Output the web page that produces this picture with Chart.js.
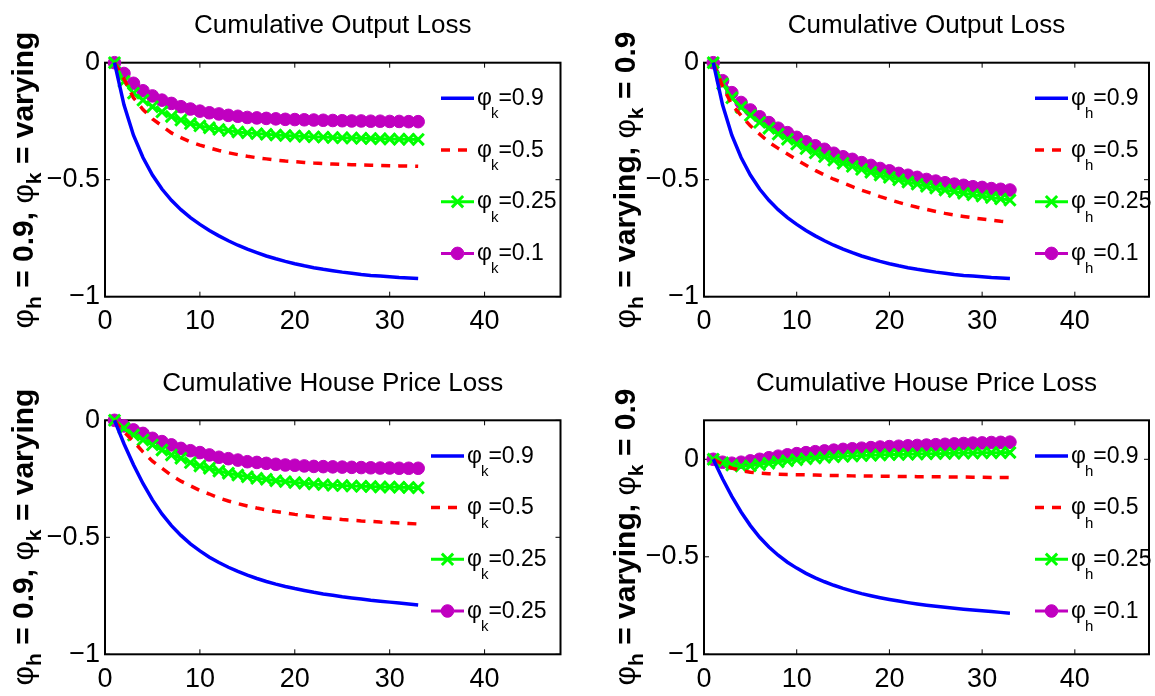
<!DOCTYPE html>
<html><head><meta charset="utf-8">
<script src="https://cdn.jsdelivr.net/npm/chart.js@4.4.1/dist/chart.umd.min.js"></script>
<style>
html,body{margin:0;padding:0;background:#fff;overflow:hidden;width:1155px;height:696px;}
.panel{position:absolute;}
.ylab{position:absolute;white-space:nowrap;font-family:'Liberation Sans',Arial,sans-serif;font-weight:bold;font-size:30px;line-height:30px;transform:translate(-50%,-50%) rotate(-90deg);color:#000;}
.ylab .phi{font-weight:normal;}
.ylab .sub{font-size:21px;line-height:0;position:relative;top:8px;}
</style></head><body>
<div class="panel" style="left:0px;top:0px;"><canvas id="cTL" width="580" height="350"></canvas></div>
<div class="panel" style="left:600px;top:0px;"><canvas id="cTR" width="560" height="350"></canvas></div>
<div class="panel" style="left:0px;top:358px;"><canvas id="cBL" width="580" height="338"></canvas></div>
<div class="panel" style="left:600px;top:358px;"><canvas id="cBR" width="560" height="338"></canvas></div>
<div class="ylab" style="left:23px;top:180px;"><span class="phi">φ</span><span class="sub">h</span> = 0.9, <span class="phi">φ</span><span class="sub">k</span> = varying</div>
<div class="ylab" style="left:625px;top:180px;"><span class="phi">φ</span><span class="sub">h</span> = varying, <span class="phi">φ</span><span class="sub">k</span> = 0.9</div>
<div class="ylab" style="left:23px;top:537px;"><span class="phi">φ</span><span class="sub">h</span> = 0.9, <span class="phi">φ</span><span class="sub">k</span> = varying</div>
<div class="ylab" style="left:625px;top:537px;"><span class="phi">φ</span><span class="sub">h</span> = varying, <span class="phi">φ</span><span class="sub">k</span> = 0.9</div>
<script>
// ---------- data ----------
const periods = [1,2,3,4,5,6,7,8,9,10,11,12,13,14,15,16,17,18,19,20,21,22,23,24,25,26,27,28,29,30,31,32,33];
const xTicks = [0,10,20,30,40];
const yTicks = [-1,-0.5,0];

// Cumulative Output Loss
const outputBoth09 = [0,-0.18,-0.31,-0.405,-0.48,-0.54,-0.588,-0.628,-0.662,-0.691,-0.717,-0.74,-0.761,-0.78,-0.797,-0.812,-0.826,-0.838,-0.849,-0.859,-0.868,-0.876,-0.883,-0.889,-0.895,-0.900,-0.905,-0.909,-0.912,-0.915,-0.918,-0.920,-0.922];
const outputK05 = [0,-0.07,-0.15,-0.20,-0.24,-0.27,-0.30,-0.32,-0.338,-0.352,-0.364,-0.375,-0.385,-0.393,-0.40,-0.406,-0.411,-0.416,-0.42,-0.423,-0.426,-0.429,-0.431,-0.433,-0.435,-0.436,-0.437,-0.438,-0.439,-0.44,-0.441,-0.442,-0.443];
const outputK025 = [0,-0.08,-0.13,-0.16,-0.188,-0.21,-0.23,-0.245,-0.26,-0.27,-0.278,-0.285,-0.29,-0.296,-0.30,-0.303,-0.306,-0.309,-0.311,-0.313,-0.315,-0.317,-0.318,-0.32,-0.321,-0.322,-0.323,-0.324,-0.325,-0.326,-0.327,-0.327,-0.328];
const outputK01 = [0,-0.046,-0.088,-0.12,-0.142,-0.16,-0.174,-0.188,-0.198,-0.207,-0.214,-0.219,-0.225,-0.229,-0.234,-0.236,-0.238,-0.24,-0.242,-0.243,-0.244,-0.245,-0.246,-0.247,-0.248,-0.249,-0.249,-0.25,-0.25,-0.251,-0.251,-0.252,-0.252];
const outputH05 = [0,-0.1,-0.18,-0.225,-0.27,-0.305,-0.34,-0.366,-0.39,-0.415,-0.438,-0.46,-0.48,-0.498,-0.514,-0.53,-0.545,-0.558,-0.572,-0.585,-0.597,-0.608,-0.618,-0.627,-0.636,-0.644,-0.651,-0.657,-0.663,-0.668,-0.673,-0.678,-0.682];
const outputH025 = [0,-0.09,-0.15,-0.19,-0.225,-0.255,-0.28,-0.305,-0.327,-0.348,-0.367,-0.385,-0.401,-0.416,-0.43,-0.443,-0.456,-0.468,-0.48,-0.49,-0.50,-0.51,-0.519,-0.528,-0.536,-0.544,-0.551,-0.558,-0.564,-0.57,-0.576,-0.582,-0.587];
const outputH01 = [0,-0.077,-0.128,-0.17,-0.202,-0.231,-0.256,-0.28,-0.299,-0.319,-0.338,-0.355,-0.37,-0.387,-0.402,-0.413,-0.427,-0.439,-0.452,-0.462,-0.473,-0.481,-0.49,-0.499,-0.506,-0.513,-0.519,-0.524,-0.53,-0.533,-0.538,-0.541,-0.544];

// Cumulative House Price Loss
const houseBoth09 = [0,-0.1,-0.19,-0.27,-0.34,-0.4,-0.45,-0.492,-0.528,-0.558,-0.585,-0.608,-0.628,-0.646,-0.662,-0.676,-0.689,-0.70,-0.71,-0.719,-0.727,-0.735,-0.742,-0.748,-0.754,-0.759,-0.764,-0.769,-0.773,-0.777,-0.781,-0.785,-0.789];
const houseK05 = [0,-0.05,-0.09,-0.135,-0.175,-0.205,-0.235,-0.26,-0.28,-0.30,-0.315,-0.332,-0.345,-0.356,-0.366,-0.375,-0.383,-0.39,-0.396,-0.402,-0.407,-0.412,-0.416,-0.42,-0.424,-0.427,-0.43,-0.432,-0.435,-0.437,-0.439,-0.441,-0.443];
const houseK025 = [0,-0.034,-0.063,-0.084,-0.105,-0.127,-0.148,-0.162,-0.181,-0.195,-0.205,-0.217,-0.226,-0.234,-0.241,-0.248,-0.252,-0.258,-0.262,-0.266,-0.269,-0.272,-0.275,-0.278,-0.279,-0.281,-0.282,-0.283,-0.285,-0.285,-0.286,-0.287,-0.288];
const houseK01 = [0,-0.024,-0.041,-0.056,-0.077,-0.091,-0.105,-0.12,-0.13,-0.138,-0.148,-0.158,-0.164,-0.17,-0.177,-0.18,-0.184,-0.188,-0.191,-0.192,-0.195,-0.197,-0.198,-0.199,-0.2,-0.201,-0.202,-0.203,-0.204,-0.204,-0.205,-0.205,-0.205];
const houseH05 = [0,-0.025,-0.045,-0.058,-0.066,-0.071,-0.074,-0.076,-0.078,-0.079,-0.08,-0.081,-0.082,-0.083,-0.084,-0.085,-0.085,-0.086,-0.087,-0.087,-0.088,-0.088,-0.089,-0.089,-0.09,-0.09,-0.091,-0.091,-0.092,-0.092,-0.093,-0.093,-0.094];
const houseH025 = [0,-0.018,-0.03,-0.035,-0.033,-0.027,-0.02,-0.013,-0.007,-0.002,0.003,0.007,0.01,0.013,0.015,0.017,0.019,0.021,0.022,0.024,0.025,0.026,0.027,0.028,0.029,0.03,0.031,0.032,0.032,0.033,0.034,0.034,0.035];
const houseH01 = [0,-0.015,-0.02,-0.015,-0.008,0.0,0.008,0.016,0.023,0.029,0.034,0.039,0.043,0.047,0.051,0.054,0.057,0.06,0.063,0.065,0.067,0.069,0.071,0.073,0.075,0.077,0.079,0.081,0.083,0.084,0.086,0.087,0.088];

// legend labels
const legendValsTL = ['0.9','0.5','0.25','0.1'];
const legendValsTR = ['0.9','0.5','0.25','0.1'];
const legendValsBL = ['0.9','0.5','0.25','0.25'];
const legendValsBR = ['0.9','0.5','0.25','0.1'];
const titleOutput = 'Cumulative Output Loss';
const titleHouse = 'Cumulative House Price Loss';

// ---------- rendering ----------
const FONT = "'Liberation Sans',Arial,sans-serif";
const STYLES = [
  {borderColor:'#0000ff', borderWidth:3.5, pointRadius:0},
  {borderColor:'#ff0000', borderWidth:3.5, borderDash:[9,8], pointRadius:0},
  {borderColor:'#00ff00', borderWidth:3, pointStyle:'crossRot', pointRadius:8, pointBorderWidth:3, pointBorderColor:'#00ff00', pointBackgroundColor:'#00ff00'},
  {borderColor:'#c000c0', borderWidth:3, borderDash:[12,4,3,4], pointStyle:'circle', pointRadius:6.3, pointBorderWidth:1, pointBorderColor:'#c000c0', pointBackgroundColor:'#c000c0'}
];

const boxPlugin = {
  id:'matlabBox',
  beforeDatasetsDraw(chart){
    const {ctx, chartArea:a, scales} = chart;
    ctx.save();
    ctx.strokeStyle='#000'; ctx.lineWidth=2; ctx.setLineDash([]);
    ctx.strokeRect(a.left, a.top, a.right-a.left, a.bottom-a.top);
    ctx.lineWidth=1;
    ctx.beginPath();
    scales.x.ticks.forEach(t=>{
      const px = scales.x.getPixelForValue(t.value);
      ctx.moveTo(px, a.bottom); ctx.lineTo(px, a.bottom-5);
      ctx.moveTo(px, a.top); ctx.lineTo(px, a.top+5);
    });
    scales.y.ticks.forEach(t=>{
      const py = scales.y.getPixelForValue(t.value);
      ctx.moveTo(a.left, py); ctx.lineTo(a.left+5, py);
      ctx.moveTo(a.right, py); ctx.lineTo(a.right-5, py);
    });
    ctx.stroke();
    ctx.restore();
  }
};

const texLegend = {
  id:'texLegend',
  afterDatasetsDraw(chart, args, o){
    const {ctx, chartArea:a} = chart;
    chart.data.datasets.forEach((ds,i)=>{
      const y = a.top + o.top + i*o.gap;
      const x0 = a.left + o.left, x1 = x0 + o.lineLen;
      ctx.save();
      ctx.strokeStyle = ds.borderColor; ctx.lineWidth = ds.borderWidth;
      ctx.setLineDash(ds.borderDash || []);
      ctx.beginPath(); ctx.moveTo(x0,y); ctx.lineTo(x1,y); ctx.stroke();
      ctx.setLineDash([]);
      if (ds.pointRadius > 0) {
        ctx.fillStyle = ds.pointBackgroundColor; ctx.strokeStyle = ds.pointBorderColor; ctx.lineWidth = ds.pointBorderWidth;
        Chart.helpers.drawPoint(ctx, {pointStyle:ds.pointStyle, radius:ds.pointRadius, borderWidth:ds.pointBorderWidth, rotation:0}, (x0+x1)/2, y);
      }
      ctx.fillStyle='#000'; ctx.textAlign='left'; ctx.textBaseline='alphabetic';
      let tx = x1 + o.textGap;
      ctx.font = o.size + 'px ' + FONT;
      ctx.fillText('φ', tx, y + o.base); tx += ctx.measureText('φ').width;
      ctx.font = o.subSize + 'px ' + FONT;
      ctx.fillText(o.sub, tx - 1, y + o.subBase); tx += ctx.measureText(o.sub).width - 1;
      ctx.font = o.size + 'px ' + FONT;
      ctx.fillText('=' + o.values[i], tx, y + o.base);
      ctx.restore();
    });
  }
};

function pts(ys){ return periods.map((x,i)=>({x:x, y:ys[i]})); }

function makeChart(id, divX, divY, plot, title, series, sub, vals, yMax, legLeft){
  const cv = document.getElementById(id);
  const W = cv.width, H = cv.height;
  const yW = 60, xH = 40, titleSize = 26, titleGap = 21.1;
  const titleH = titleSize*1.2 + titleGap;
  const datasets = series.map((s,i)=>Object.assign({
    label:'φ' + sub + '=' + vals[i], data:pts(s), tension:0, clip:false, fill:false
  }, STYLES[i]));
  return new Chart(cv, {
    type:'line',
    data:{datasets},
    plugins:[boxPlugin, texLegend],
    options:{
      responsive:false, animation:false, devicePixelRatio:1,
      layout:{padding:{left:plot.l-divX-yW, right:divX+W-plot.r, top:plot.t-divY-titleH, bottom:divY+H-plot.b-xH}},
      scales:{
        x:{type:'linear', min:0, max:48, afterFit(s){s.height=xH;},
           afterBuildTicks(s){ s.ticks = xTicks.map(v=>({value:v})); },
           ticks:{font:{family:FONT,size:27}, color:'#000', padding:9, maxRotation:0, autoSkip:false},
           grid:{display:false, drawTicks:false}, border:{display:false}},
        y:{type:'linear', min:-1, max:yMax, afterFit(s){s.width=yW;},
           afterBuildTicks(s){ s.ticks = yTicks.map(v=>({value:v})); },
           ticks:{font:{family:FONT,size:27}, color:'#000', padding:5,
                  callback:v=> v<0 ? '\u2212' + Math.abs(v) : String(v)},
           grid:{display:false, drawTicks:false}, border:{display:false}}
      },
      plugins:{
        legend:{display:false}, tooltip:{enabled:false},
        title:{display:true, text:title, fullSize:false, color:'#000',
               font:{family:FONT, size:titleSize, weight:'normal'}, padding:{top:0, bottom:titleGap}},
        texLegend:{top:35.6, gap:51.7, left:legLeft, lineLen:33, textGap:3, size:23, subSize:15, base:6.7, subBase:20, sub:sub, values:vals}
      }
    }
  });
}

makeChart('cTL', 0, 0, {l:105, t:62.7, r:560.5, b:296.7}, titleOutput,
  [outputBoth09, outputK05, outputK025, outputK01], 'k', legendValsTL, 0, 336);
makeChart('cTR', 600, 0, {l:704, t:62.7, r:1159.5, b:296.7}, titleOutput,
  [outputBoth09, outputH05, outputH025, outputH01], 'h', legendValsTR, 0, 331);
makeChart('cBL', 0, 358, {l:105, t:420.3, r:560.5, b:654.3}, titleHouse,
  [houseBoth09, houseK05, houseK025, houseK01], 'k', legendValsBL, 0, 326);
makeChart('cBR', 600, 358, {l:704, t:420.3, r:1159.5, b:654.3}, titleHouse,
  [houseBoth09, houseH05, houseH025, houseH01], 'h', legendValsBR, 0.2, 331);
</script>
</body></html>
